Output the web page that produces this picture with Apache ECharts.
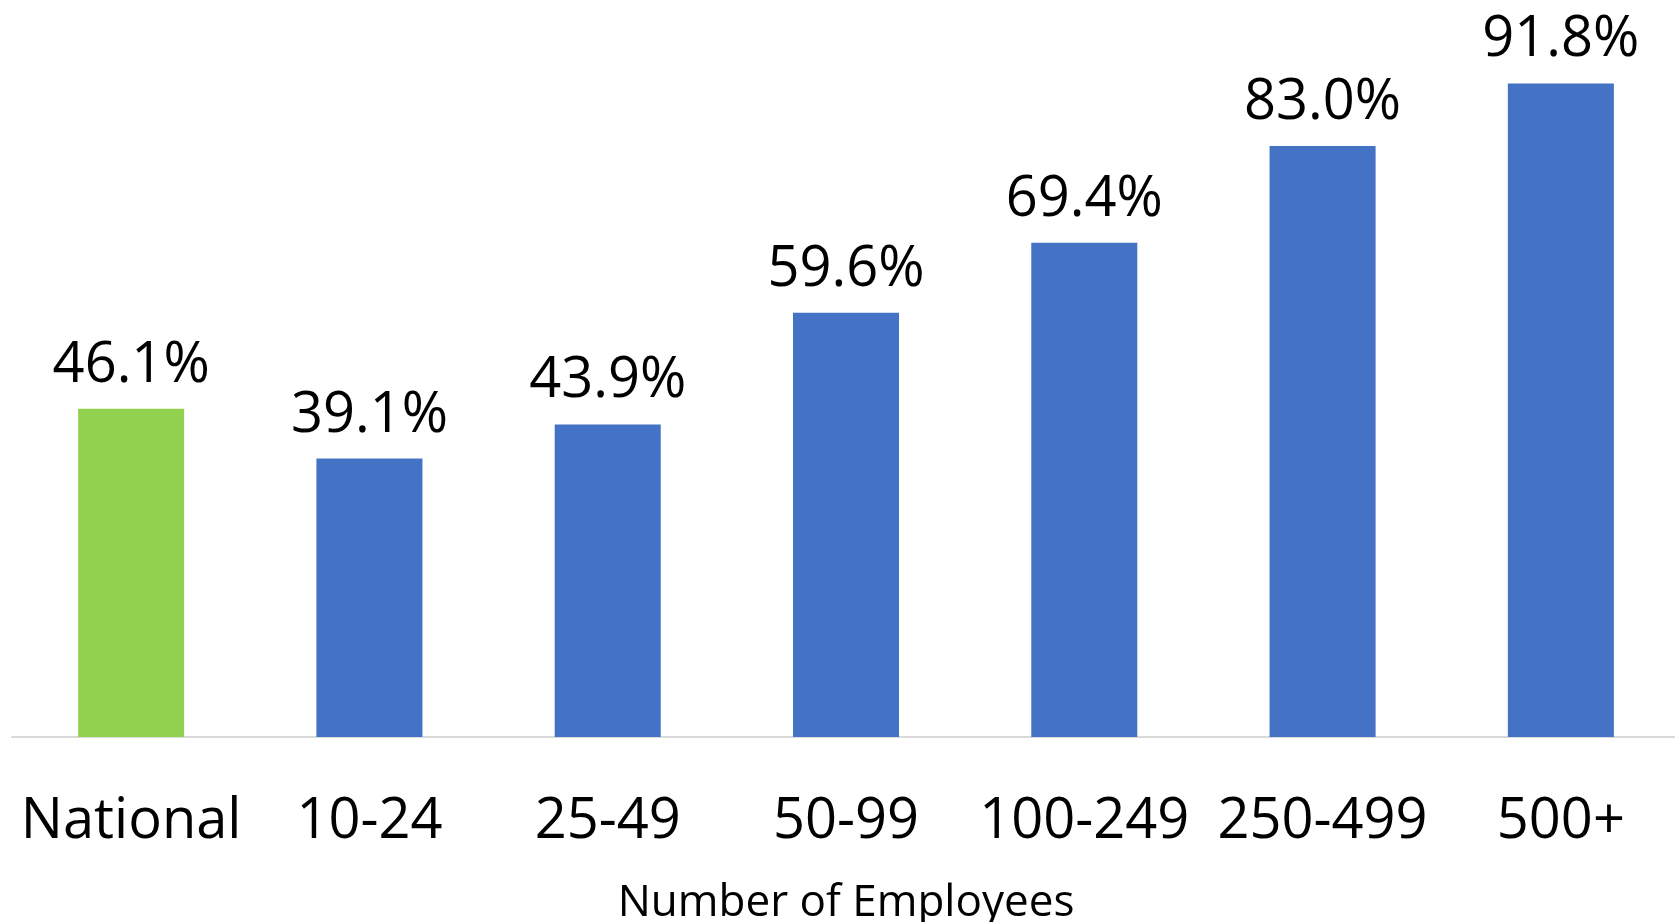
<!DOCTYPE html>
<html>
<head>
<meta charset="utf-8">
<script src="https://cdn.jsdelivr.net/npm/echarts@6/dist/echarts.min.js"></script>
<style>
html,body{margin:0;padding:0;background:#fff;}
#chart{width:1675px;height:922px;}
</style>
</head>
<body>
<div id="chart"></div>
<script>
const categories = ['National', '10-24', '25-49', '50-99', '100-249', '250-499', '500+'];
const values = [46.1, 39.1, 43.9, 59.6, 69.4, 83.0, 91.8];
const barColors = ['#92d050', '#4472c4', '#4472c4', '#4472c4', '#4472c4', '#4472c4', '#4472c4'];
const axisTitle = 'Number of Employees';

const chart = echarts.init(document.getElementById('chart'));
chart.setOption({
  backgroundColor: '#ffffff',
  animation: false,
  textStyle: { fontFamily: 'Open Sans' },
  grid: { left: 12, right: -5, top: 25, bottom: 185, containLabel: false, outerBoundsMode: 'none' },
  xAxis: {
    type: 'category',
    data: categories,
    axisLine: { show: true, lineStyle: { color: '#d9d9d9', width: 2 } },
    axisTick: { show: false },
    axisLabel: { color: '#000000', fontSize: 56, fontFamily: 'Open Sans', margin: 57, interval: 0 },
    name: axisTitle,
    nameLocation: 'middle',
    nameGap: 144,
    nameTextStyle: { color: '#000000', fontSize: 44, fontFamily: 'Open Sans' }
  },
  yAxis: {
    type: 'value',
    min: 0,
    max: 100,
    show: false,
    splitLine: { show: false }
  },
  series: [{
    type: 'bar',
    barWidth: '44.5%',
    data: values.map((v, i) => ({ value: v, itemStyle: { color: barColors[i] } })),
    label: {
      show: true,
      position: 'top',
      distance: 15,
      color: '#000000',
      fontSize: 56,
      fontFamily: 'Open Sans',
      formatter: p => p.value.toFixed(1) + '%'
    }
  }]
});
</script>
</body>
</html>
